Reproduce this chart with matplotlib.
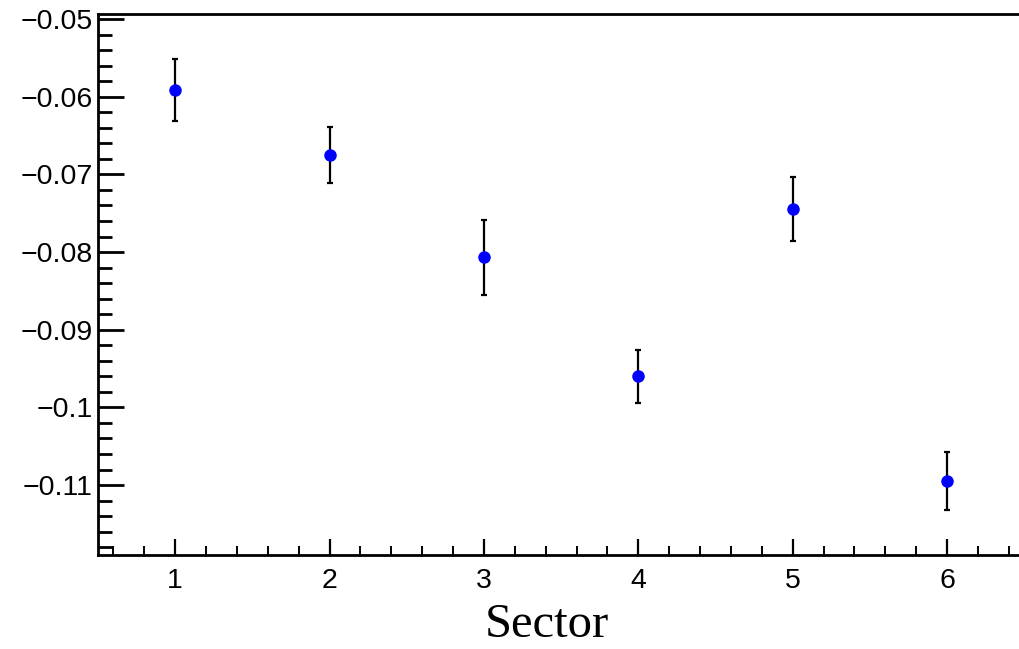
import matplotlib
matplotlib.use("Agg")
import matplotlib.pyplot as plt
from matplotlib.ticker import MultipleLocator, FixedLocator

# data
sectors = [1, 2, 3, 4, 5, 6]
values = [-0.0591, -0.0675, -0.0807, -0.0960, -0.0745, -0.1095]
errors = [0.0040, 0.0036, 0.0048, 0.0034, 0.0041, 0.0037]

y_ticks = [-0.05, -0.06, -0.07, -0.08, -0.09, -0.10, -0.11]
y_tick_labels = ["\u22120.05", "\u22120.06", "\u22120.07", "\u22120.08", "\u22120.09", "\u22120.1", "\u22120.11"]
x_ticks = [1, 2, 3, 4, 5, 6]
x_tick_labels = ["1", "2", "3", "4", "5", "6"]

fig = plt.figure(figsize=(10.2, 6.49), dpi=100)
ax = fig.add_axes([0.0961, 0.1448, 0.908, 0.8336])

ax.errorbar(sectors, values, yerr=errors, fmt="o", color="#0000ff",
            markersize=8, ecolor="black", elinewidth=1.6,
            capsize=2, capthick=1.6, zorder=3)

ax.set_xlim(0.5, 6.5)
ax.set_ylim(-0.119, -0.04936)

# spines
for side in ["left", "bottom", "top"]:
  ax.spines[side].set_linewidth(2.0)
ax.spines["right"].set_visible(False)

# ticks
ax.yaxis.set_major_locator(FixedLocator(y_ticks))
ax.set_yticklabels(y_tick_labels)
ax.yaxis.set_minor_locator(MultipleLocator(0.002))
ax.xaxis.set_major_locator(FixedLocator(x_ticks))
ax.set_xticklabels(x_tick_labels)
ax.xaxis.set_minor_locator(MultipleLocator(0.2))

ax.tick_params(axis="y", which="major", direction="in", length=19, width=2.0,
               pad=4, labelsize=20.5)
ax.tick_params(axis="y", which="minor", direction="in", length=10, width=2.0)
ax.tick_params(axis="x", which="major", direction="in", length=11.5, width=1.6,
               pad=9, labelsize=20.5)
ax.tick_params(axis="x", which="minor", direction="in", length=6.5, width=1.4)
for lab in ax.get_xticklabels() + ax.get_yticklabels():
  lab.set_fontfamily("Liberation Sans")

# titles
ax.set_xlabel("Sector", fontsize=35, fontfamily="Liberation Serif")
ax.xaxis.set_label_coords(0.485, -0.088)

fig.savefig("out.png", dpi=100)
